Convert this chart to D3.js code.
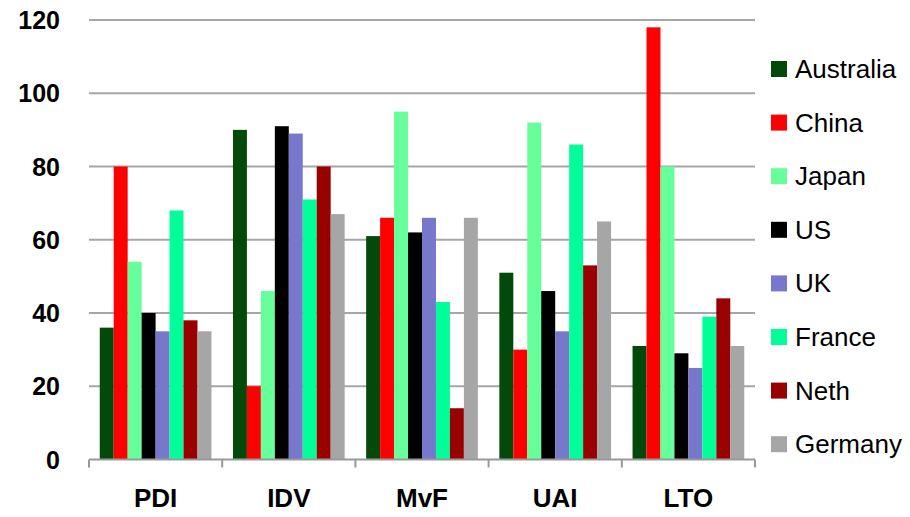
<!DOCTYPE html>
<html><head><meta charset="utf-8">
<script src="https://cdn.jsdelivr.net/npm/d3@7"></script>
<style>body{margin:0;background:#fff}svg{display:block}</style>
</head><body>
<svg id="c" width="910" height="517"></svg>
<script>
const categories = ["PDI","IDV","MvF","UAI","LTO"];
const seriesNames = ["Australia","China","Japan","US","UK","France","Neth","Germany"];
const seriesColors = ["#034a0a","#ff0000","#66ff99","#000000","#7777cc","#00ff99","#990000","#a6a6a6"];
const australia = [36,90,61,51,31];
const china     = [80,20,66,30,118];
const japan     = [54,46,95,92,80];
const us        = [40,91,62,46,29];
const uk        = [35,89,66,35,25];
const france    = [68,71,43,86,39];
const neth      = [38,80,14,53,44];
const germany   = [35,67,66,65,31];
const yTicks = [0,20,40,60,80,100,120];

const series = [australia,china,japan,us,uk,france,neth,germany];
const svg = d3.select("#c");
const L = 89, R = 755, T = 20, B = 459.5;
const x0 = d3.scaleBand().domain(categories).range([L,R]).paddingInner(0).paddingOuter(0);
const x1 = d3.scaleBand().domain(seriesNames).range([0,x0.bandwidth()]).paddingOuter(0.77).paddingInner(0);
const y = d3.scaleLinear().domain([0,120]).range([B,T]);

// gridlines
svg.append("g").selectAll("line").data(yTicks.slice(1)).join("line")
  .attr("x1",L).attr("x2",R).attr("y1",d=>y(d)).attr("y2",d=>y(d))
  .attr("stroke","#a6a6a6").attr("stroke-width",2);

// bars
const g = svg.append("g");
categories.forEach((c,ci)=>{
  seriesNames.forEach((s,si)=>{
    g.append("rect")
      .attr("x", x0(c)+x1(s))
      .attr("width", x1.bandwidth())
      .attr("y", y(series[si][ci]))
      .attr("height", y(0)-y(series[si][ci]))
      .attr("fill", seriesColors[si]);
  });
});

// x axis
const xa = svg.append("g").attr("transform",`translate(0,${B})`);
xa.append("line").attr("x1",L).attr("x2",R).attr("stroke","#999").attr("stroke-width",2);
const bounds = categories.map(c=>x0(c)).concat([R]);
xa.selectAll("line.t").data(bounds).join("line").attr("class","t")
  .attr("x1",d=>d).attr("x2",d=>d).attr("y1",0).attr("y2",8)
  .attr("stroke","#999").attr("stroke-width",2);
xa.selectAll("text").data(categories).join("text")
  .attr("x",d=>x0(d)+x0.bandwidth()/2).attr("y",47)
  .attr("text-anchor","middle")
  .attr("font-family","Liberation Sans, Arial, sans-serif").attr("font-weight","bold")
  .attr("font-size",26).attr("fill","#000").text(d=>d);

// y labels
svg.append("g").selectAll("text").data(yTicks).join("text")
  .attr("x",60).attr("y",d=>y(d)+9)
  .attr("text-anchor","end")
  .attr("font-family","Liberation Sans, Arial, sans-serif").attr("font-weight","bold")
  .attr("font-size",25).attr("fill","#000").text(d=>d);

// legend
const lg = svg.append("g");
seriesNames.forEach((s,i)=>{
  const cy = 69 + i*53.6;
  lg.append("rect").attr("x",771).attr("y",cy-8).attr("width",16).attr("height",16).attr("fill",seriesColors[i]);
  lg.append("text").attr("x",795).attr("y",cy+9)
    .attr("font-family","Liberation Sans, Arial, sans-serif")
    .attr("font-size",26).attr("fill","#000").text(s);
});
</script>
</body></html>
